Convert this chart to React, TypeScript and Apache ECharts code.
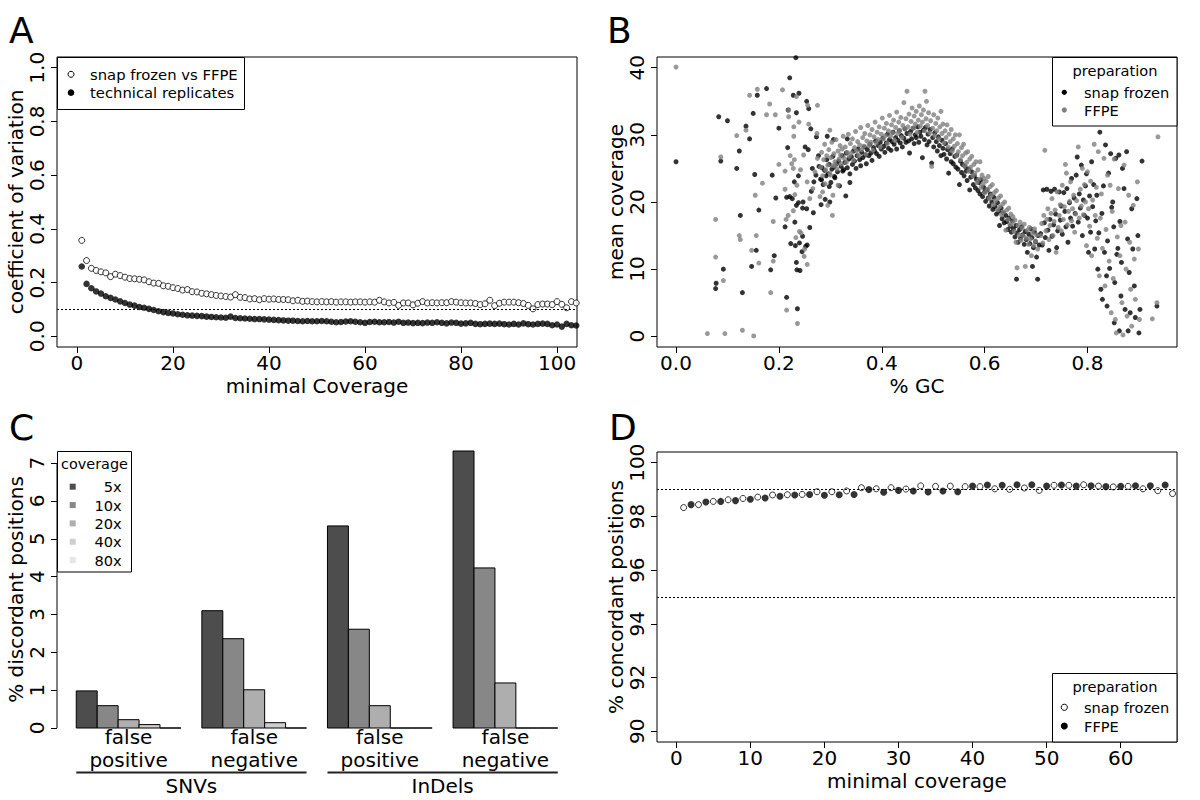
import React, { useEffect, useRef } from "react";
import * as echarts from "echarts";

const FONT = "DejaVu Sans";

// ---------- Panel A: coefficient of variation vs minimal coverage ----------
const cvSnapVsFfpe = [
  0.357, 0.282, 0.253, 0.245, 0.24, 0.236, 0.222, 0.231, 0.226, 0.22,
  0.215, 0.214, 0.212, 0.21, 0.203, 0.198, 0.197, 0.188, 0.186, 0.181,
  0.178, 0.172, 0.174, 0.166, 0.165, 0.16, 0.158, 0.155, 0.152, 0.15,
  0.148, 0.146, 0.155, 0.145, 0.144, 0.139, 0.14, 0.136, 0.14, 0.138,
  0.139, 0.137, 0.137, 0.136, 0.132, 0.134, 0.13, 0.131, 0.129, 0.128,
  0.129, 0.128, 0.129, 0.127, 0.128, 0.128, 0.127, 0.128, 0.128, 0.127,
  0.128, 0.127, 0.134, 0.128, 0.124, 0.126, 0.115, 0.124, 0.124, 0.117,
  0.123, 0.129, 0.124, 0.125, 0.124, 0.125, 0.125, 0.129, 0.127, 0.125,
  0.124, 0.124, 0.122, 0.118, 0.121, 0.134, 0.114, 0.123, 0.127, 0.127,
  0.127, 0.125, 0.122, 0.115, 0.102, 0.118, 0.12, 0.12, 0.118, 0.129,
  0.119, 0.106, 0.129, 0.124,
];
const cvTechnical = [
  0.26, 0.195, 0.179, 0.167, 0.159, 0.149, 0.143, 0.137, 0.13, 0.124,
  0.118, 0.114, 0.109, 0.106, 0.102, 0.098, 0.093, 0.09, 0.087, 0.085,
  0.082, 0.08, 0.078, 0.077, 0.076, 0.075, 0.073, 0.072, 0.071, 0.07,
  0.069, 0.073, 0.068, 0.067, 0.066, 0.065, 0.064, 0.064, 0.063, 0.062,
  0.061, 0.06, 0.059, 0.058, 0.058, 0.057, 0.056, 0.057, 0.056, 0.056,
  0.057, 0.056, 0.054, 0.052, 0.053, 0.055, 0.056, 0.054, 0.052, 0.05,
  0.053, 0.054, 0.052, 0.052, 0.053, 0.051, 0.054, 0.05, 0.051, 0.049,
  0.05, 0.049, 0.051, 0.05, 0.052, 0.05, 0.048, 0.051, 0.05, 0.047,
  0.048, 0.05, 0.046, 0.045, 0.046, 0.047, 0.046, 0.047, 0.045, 0.044,
  0.046, 0.044, 0.048, 0.045, 0.044, 0.046, 0.047, 0.046, 0.041, 0.044,
  0.036, 0.046, 0.041, 0.04,
];
const cvThreshold = 0.1;
const aXTicks = [0, 20, 40, 60, 80, 100];
const aYTicks = [0, 0.2, 0.4, 0.6, 0.8, 1.0];

// ---------- Panel B: mean coverage vs %GC ----------
const snapFrozenGC: number[][] = [
  [0.0, 26.0], [0.077, 7.1], [0.078, 7.9], [0.083, 32.7], [0.087, 26.1], [0.092, 10.0], [0.1, 32.1], [0.118, 25.0],
  [0.123, 27.6], [0.125, 18.0], [0.129, 6.5], [0.136, 31.3], [0.143, 29.4], [0.147, 10.4], [0.15, 33.2], [0.153, 24.1],
  [0.156, 12.8], [0.158, 35.9], [0.161, 18.8], [0.176, 36.9], [0.184, 9.9], [0.187, 24.0], [0.191, 12.0], [0.194, 20.6],
  [0.2, 31.0], [0.212, 16.3], [0.215, 5.8], [0.217, 28.1], [0.218, 33.7], [0.221, 20.8], [0.221, 38.5], [0.223, 13.8],
  [0.228, 35.9], [0.23, 23.0], [0.231, 17.0], [0.233, 41.5], [0.234, 33.3], [0.234, 11.0], [0.235, 9.9], [0.236, 4.1],
  [0.238, 23.9], [0.239, 36.2], [0.241, 9.8], [0.246, 14.9], [0.247, 20.0], [0.251, 28.2], [0.254, 35.0], [0.255, 13.6],
  [0.258, 33.9], [0.26, 16.2], [0.262, 30.9], [0.263, 21.6], [0.267, 18.4], [0.268, 23.0], [0.273, 29.7], [0.277, 26.9],
  [0.278, 25.3], [0.282, 19.6], [0.283, 23.3], [0.29, 20.4], [0.294, 29.8], [0.298, 22.3], [0.299, 20.0], [0.306, 29.3],
  [0.308, 23.8], [0.324, 24.6], [0.33, 20.9], [0.333, 29.4], [0.338, 22.9],
  [0.215, 20.7], [0.226, 20.5], [0.234, 19.5], [0.238, 19.9], [0.246, 19.1], [0.254, 19.0], [0.257, 27.8], [0.265, 25.0],
  [0.272, 24.0], [0.232, 13.5], [0.24, 13.9], [0.252, 13.4], [0.245, 12.6],
  [0.281, 23.4], [0.284, 25.1], [0.286, 22.6], [0.289, 24.7], [0.292, 23.9], [0.293, 26.3], [0.296, 24.2], [0.298, 25.6],
  [0.301, 22.9], [0.303, 24.9], [0.305, 26.8], [0.307, 25.2], [0.309, 23.6], [0.312, 25.7], [0.314, 24.5], [0.316, 26.1],
  [0.318, 22.4], [0.321, 25.3], [0.323, 26.9], [0.326, 24.8], [0.328, 25.9], [0.331, 27.3], [0.333, 25.1], [0.336, 26.4],
  [0.338, 24.2], [0.341, 26.7], [0.343, 25.6], [0.345, 27.6], [0.347, 26.1], [0.35, 25.0], [0.352, 26.9], [0.354, 27.9],
  [0.357, 26.3], [0.359, 25.4], [0.361, 27.4], [0.363, 26.6], [0.366, 28.2], [0.368, 27.0], [0.37, 25.7], [0.372, 27.8],
  [0.375, 26.9], [0.377, 28.6], [0.379, 27.3], [0.381, 26.2], [0.384, 28.1], [0.386, 27.6], [0.388, 29.1], [0.39, 27.2],
  [0.393, 28.4], [0.395, 26.8], [0.397, 28.9], [0.399, 27.9], [0.402, 29.5], [0.404, 28.3], [0.406, 27.4], [0.409, 28.8],
  [0.411, 30.1], [0.413, 28.0], [0.415, 29.3], [0.418, 27.7], [0.42, 29.0], [0.422, 30.4], [0.424, 28.6], [0.427, 29.6],
  [0.429, 27.9], [0.431, 29.2], [0.434, 30.6], [0.436, 28.8], [0.438, 29.9], [0.44, 28.2], [0.443, 29.5], [0.445, 30.9],
  [0.447, 28.9], [0.449, 30.2], [0.452, 29.1], [0.454, 27.3], [0.456, 30.5], [0.458, 29.4], [0.461, 31.0], [0.463, 28.7],
  [0.465, 30.0], [0.467, 29.6], [0.47, 31.2], [0.472, 28.9], [0.474, 30.4], [0.476, 29.8], [0.479, 26.6], [0.481, 30.7],
  [0.483, 29.3], [0.485, 31.1], [0.488, 28.5], [0.49, 30.1], [0.492, 29.0], [0.494, 30.8], [0.497, 25.8], [0.499, 29.6],
  [0.501, 28.2], [0.503, 30.3], [0.506, 29.0], [0.508, 27.6], [0.51, 29.7], [0.512, 28.4], [0.515, 26.9], [0.517, 29.2],
  [0.519, 28.0], [0.521, 27.1], [0.524, 28.7], [0.526, 26.4], [0.528, 27.8], [0.53, 24.3], [0.533, 27.2], [0.535, 26.0],
  [0.537, 27.9], [0.539, 25.7], [0.542, 26.8], [0.544, 25.2], [0.546, 27.0], [0.548, 24.9], [0.551, 22.6], [0.553, 26.1],
  [0.555, 24.4], [0.557, 25.6], [0.56, 23.9], [0.562, 25.3], [0.564, 24.6], [0.566, 23.2], [0.569, 24.9], [0.571, 21.8],
  [0.573, 23.7], [0.575, 24.5], [0.578, 22.6], [0.58, 23.9], [0.582, 22.1], [0.584, 23.4], [0.587, 21.7], [0.589, 22.9],
  [0.591, 21.2], [0.593, 23.3], [0.596, 20.8], [0.598, 22.2], [0.6, 21.5], [0.602, 20.1], [0.605, 21.8], [0.607, 20.6],
  [0.609, 19.4], [0.611, 21.2], [0.614, 20.0], [0.616, 18.9], [0.618, 20.7], [0.62, 19.3], [0.623, 18.2], [0.625, 19.9],
  [0.627, 18.6], [0.629, 16.5], [0.632, 19.1], [0.634, 17.5], [0.636, 18.4], [0.638, 16.9], [0.641, 18.0], [0.643, 17.1],
  [0.645, 15.9], [0.647, 17.6], [0.65, 16.4], [0.652, 15.5], [0.654, 17.2], [0.656, 16.0], [0.659, 14.8], [0.661, 16.5],
  [0.663, 15.4], [0.665, 14.0], [0.668, 15.9], [0.67, 14.6], [0.672, 16.3], [0.674, 15.1], [0.677, 13.7], [0.679, 15.6],
  [0.681, 14.4], [0.683, 12.5], [0.686, 15.2], [0.688, 13.8], [0.69, 16.0], [0.692, 14.7], [0.695, 13.2], [0.697, 15.5],
  [0.699, 14.1], [0.701, 11.8], [0.704, 15.0], [0.706, 13.6], [0.662, 8.5], [0.703, 8.5], [0.693, 10.4],
  [0.709, 15.3], [0.712, 13.6], [0.714, 21.8], [0.716, 16.9], [0.718, 14.7], [0.721, 21.9], [0.723, 15.8], [0.725, 12.8],
  [0.727, 17.4], [0.729, 21.6], [0.731, 14.9], [0.734, 16.6], [0.736, 21.9], [0.738, 18.2], [0.74, 13.2], [0.742, 15.7],
  [0.745, 21.5], [0.747, 17.3], [0.749, 19.4], [0.751, 15.2], [0.754, 21.4], [0.756, 18.6], [0.758, 16.3], [0.76, 22.0],
  [0.762, 14.0], [0.765, 19.9], [0.767, 17.6], [0.769, 23.5], [0.771, 16.4], [0.774, 20.6], [0.776, 18.3], [0.778, 24.0],
  [0.78, 26.7], [0.782, 17.0], [0.784, 21.2], [0.786, 19.1], [0.788, 25.5], [0.79, 15.0], [0.792, 20.3], [0.794, 18.0],
  [0.796, 22.4], [0.798, 24.2], [0.8, 17.6], [0.802, 12.5], [0.804, 20.9], [0.806, 15.5], [0.808, 26.0], [0.81, 19.3],
  [0.812, 22.6], [0.814, 13.0], [0.816, 17.2], [0.818, 21.0], [0.82, 10.0], [0.822, 15.4],
  [0.824, 30.4], [0.826, 7.0], [0.828, 18.3], [0.831, 22.4], [0.833, 12.5], [0.835, 28.5], [0.829, 5.5], [0.837, 9.0],
  [0.839, 14.2], [0.841, 24.3], [0.843, 10.1], [0.845, 27.2], [0.838, 4.5], [0.847, 19.2], [0.851, 16.3], [0.849, 20.0],
  [0.853, 8.0], [0.855, 26.5], [0.852, 2.0], [0.857, 12.2], [0.861, 27.0], [0.859, 13.1], [0.863, 17.1], [0.865, 6.0],
  [0.862, 0.8], [0.868, 25.0], [0.866, 11.0], [0.871, 22.0], [0.873, 4.0], [0.876, 27.5], [0.878, 14.5], [0.881, 9.5],
  [0.879, 0.8], [0.883, 3.5], [0.886, 19.0], [0.888, 13.0], [0.891, 7.5], [0.893, 2.8], [0.896, 20.5], [0.898, 15.0],
  [0.9, 0.5], [0.902, 4.0], [0.906, 26.1], [0.935, 4.5],
];
const ffpeGC: number[][] = [
  [0.0, 40.1], [0.061, 0.4], [0.077, 11.8], [0.077, 17.4], [0.087, 26.7], [0.092, 8.3], [0.095, 0.4], [0.118, 29.9],
  [0.123, 15.0], [0.125, 14.4], [0.129, 0.9], [0.136, 30.7], [0.143, 35.9], [0.147, 12.8], [0.151, 0.05], [0.154, 21.0],
  [0.156, 15.0], [0.158, 36.8], [0.161, 10.9], [0.168, 22.8], [0.176, 33.0], [0.182, 34.6], [0.184, 6.5], [0.189, 17.1],
  [0.189, 11.2], [0.193, 33.0], [0.2, 25.6], [0.207, 36.7], [0.212, 21.9], [0.212, 24.6], [0.214, 17.4], [0.215, 3.9],
  [0.219, 33.7], [0.219, 32.7], [0.225, 25.7], [0.229, 31.2], [0.229, 29.8], [0.231, 21.1], [0.233, 14.7], [0.234, 35.7],
  [0.236, 1.9], [0.239, 31.9], [0.24, 15.6], [0.243, 15.4], [0.249, 11.9], [0.25, 13.0], [0.255, 10.7], [0.256, 34.4],
  [0.258, 31.6], [0.274, 30.2], [0.275, 34.4], [0.299, 30.7], [0.304, 18.0],
  [0.222, 26.9], [0.228, 25.0], [0.235, 22.5], [0.242, 24.8], [0.248, 27.0], [0.255, 23.0], [0.26, 20.5], [0.266, 22.0],
  [0.27, 24.5], [0.275, 26.5], [0.28, 20.8], [0.285, 21.5], [0.29, 22.7], [0.295, 19.5], [0.3, 24.0], [0.305, 21.0],
  [0.31, 25.5], [0.315, 22.5], [0.32, 27.0], [0.23, 26.3], [0.228, 18.7], [0.218, 18.0],
  [0.281, 25.2], [0.283, 27.4], [0.285, 23.9], [0.287, 26.3], [0.289, 28.6], [0.291, 24.8], [0.293, 26.9], [0.295, 25.5],
  [0.297, 27.8], [0.299, 24.3], [0.301, 26.6], [0.303, 28.9], [0.305, 25.4], [0.307, 27.2], [0.309, 26.0], [0.311, 29.3],
  [0.313, 24.9], [0.315, 27.6], [0.317, 26.4], [0.319, 28.4], [0.321, 25.7], [0.323, 27.9], [0.325, 29.8], [0.327, 26.5],
  [0.329, 28.2], [0.331, 25.9], [0.333, 27.4], [0.335, 30.1], [0.337, 26.8], [0.339, 28.7], [0.341, 27.3], [0.343, 29.4],
  [0.345, 26.2], [0.347, 28.1], [0.349, 30.5], [0.351, 27.6], [0.353, 29.0], [0.355, 26.9], [0.357, 28.5], [0.359, 31.1],
  [0.361, 27.8], [0.363, 29.6], [0.365, 28.3], [0.367, 30.2], [0.369, 27.1], [0.371, 29.1], [0.373, 31.4], [0.375, 28.4],
  [0.377, 30.0], [0.379, 28.9], [0.381, 30.8], [0.383, 27.7], [0.385, 29.7], [0.387, 31.9], [0.389, 28.8], [0.391, 30.4],
  [0.393, 29.3], [0.395, 31.2], [0.397, 28.2], [0.399, 30.1], [0.401, 32.5], [0.403, 29.4], [0.405, 31.0], [0.407, 29.9],
  [0.409, 31.7], [0.411, 28.7], [0.413, 30.6], [0.415, 32.9], [0.417, 29.8], [0.419, 31.5], [0.421, 30.3], [0.423, 32.2],
  [0.425, 29.2], [0.427, 31.1], [0.429, 33.4], [0.431, 30.2], [0.433, 31.9], [0.435, 30.7], [0.437, 32.6], [0.439, 29.6],
  [0.441, 31.4], [0.443, 34.8], [0.445, 30.9], [0.447, 32.4], [0.449, 36.5], [0.451, 31.2], [0.453, 33.1], [0.455, 30.1],
  [0.457, 32.0], [0.459, 34.0], [0.461, 31.0], [0.463, 32.8], [0.465, 31.6], [0.467, 33.5], [0.469, 30.4], [0.471, 32.2],
  [0.473, 34.3], [0.475, 31.3], [0.477, 33.0], [0.479, 31.9], [0.481, 33.7], [0.483, 30.6], [0.484, 36.5], [0.486, 32.4],
  [0.487, 35.0], [0.489, 31.4], [0.491, 33.3], [0.493, 30.3], [0.495, 32.1], [0.497, 25.3], [0.499, 31.0], [0.501, 33.0],
  [0.503, 29.9], [0.505, 31.7], [0.507, 30.6], [0.509, 32.5], [0.511, 29.4], [0.513, 31.2], [0.515, 33.5], [0.517, 30.2],
  [0.519, 31.6], [0.521, 28.8], [0.523, 30.6], [0.525, 29.6], [0.527, 31.5], [0.529, 28.2], [0.531, 30.1], [0.533, 29.0],
  [0.535, 30.8], [0.537, 27.6], [0.539, 29.4], [0.541, 28.3], [0.543, 30.0], [0.545, 26.9], [0.547, 28.7], [0.549, 27.5],
  [0.551, 30.0], [0.553, 26.3], [0.555, 28.1], [0.557, 26.9], [0.559, 28.6], [0.561, 25.4], [0.563, 27.3], [0.565, 25.9],
  [0.567, 27.5], [0.569, 24.6], [0.571, 26.4], [0.573, 25.2], [0.575, 26.8], [0.577, 23.9], [0.579, 25.6], [0.581, 24.3],
  [0.583, 26.0], [0.585, 22.9], [0.587, 24.8], [0.589, 23.4], [0.591, 26.0], [0.593, 22.2], [0.595, 24.0], [0.597, 22.7],
  [0.599, 23.5], [0.601, 21.4], [0.603, 23.1], [0.605, 21.9], [0.607, 23.8], [0.609, 20.5], [0.611, 22.3], [0.613, 21.0],
  [0.615, 22.6], [0.617, 19.6], [0.619, 21.4], [0.621, 20.2], [0.623, 21.7], [0.625, 18.8], [0.627, 20.6], [0.629, 19.3],
  [0.631, 20.9], [0.633, 18.1], [0.635, 19.7], [0.637, 18.5], [0.639, 20.0], [0.641, 15.8], [0.643, 18.8], [0.645, 17.4],
  [0.647, 19.1], [0.649, 16.6], [0.651, 18.2], [0.653, 16.9], [0.655, 17.8], [0.657, 15.6], [0.659, 17.3], [0.661, 14.0],
  [0.663, 10.2], [0.665, 16.5], [0.667, 15.1], [0.669, 17.0], [0.671, 14.3], [0.673, 16.1], [0.675, 15.0], [0.677, 16.7],
  [0.679, 10.4], [0.681, 14.6], [0.683, 15.8], [0.685, 13.7], [0.687, 16.2], [0.689, 14.5], [0.691, 12.0], [0.693, 15.4],
  [0.695, 13.5], [0.697, 16.0], [0.699, 14.2], [0.701, 15.1], [0.703, 13.0],
  [0.709, 15.0], [0.711, 16.8], [0.713, 13.9], [0.715, 18.0], [0.717, 27.7], [0.719, 15.7], [0.721, 17.4], [0.723, 19.0],
  [0.725, 14.4], [0.727, 16.5], [0.729, 18.3], [0.731, 20.5], [0.733, 15.0], [0.735, 17.1], [0.737, 18.8], [0.739, 12.5],
  [0.741, 21.5], [0.743, 16.2], [0.745, 18.0], [0.747, 19.6], [0.749, 15.7], [0.751, 22.5], [0.753, 17.4], [0.755, 19.3],
  [0.757, 25.6], [0.759, 24.3], [0.761, 16.6], [0.763, 18.6], [0.765, 20.1], [0.767, 23.0], [0.769, 17.2], [0.771, 19.0],
  [0.773, 21.0], [0.775, 15.5], [0.777, 18.2], [0.779, 20.2], [0.782, 28.2], [0.784, 17.6], [0.786, 21.9], [0.788, 19.4],
  [0.79, 25.0], [0.792, 18.1], [0.794, 22.6], [0.796, 20.0], [0.798, 13.5], [0.8, 24.5], [0.802, 19.0], [0.804, 16.4],
  [0.806, 23.1], [0.808, 12.0], [0.81, 20.3], [0.813, 28.6], [0.815, 18.0], [0.817, 22.2], [0.819, 14.6],
  [0.821, 27.5], [0.823, 9.0], [0.825, 17.6], [0.827, 21.2], [0.829, 13.1], [0.832, 26.5], [0.834, 7.5], [0.836, 15.9],
  [0.839, 24.0], [0.842, 11.2], [0.844, 22.5], [0.846, 3.5], [0.848, 18.6], [0.85, 8.6], [0.852, 26.4], [0.854, 2.5],
  [0.856, 0.5], [0.858, 14.8], [0.86, 22.0], [0.863, 12.0], [0.865, 16.5], [0.867, 5.0], [0.869, 0.2], [0.871, 25.5],
  [0.873, 17.0], [0.875, 10.0], [0.877, 3.0], [0.88, 21.0], [0.882, 14.0], [0.884, 7.0], [0.886, 1.5], [0.889, 19.5],
  [0.891, 11.5], [0.893, 5.5], [0.897, 23.0], [0.899, 13.0], [0.901, 2.5], [0.926, 2.6], [0.935, 5.0], [0.937, 29.7],
];
const bXTicks = [0, 0.2, 0.4, 0.6, 0.8];
const bYTicks = [0, 10, 20, 30, 40];

// ---------- Panel C: % discordant positions ----------
const coverageLevels = ["5x", "10x", "20x", "40x", "80x"];
const coverageColors = ["#4d4d4d", "#878787", "#aeaeae", "#cecece", "#e6e6e6"];
const snvFalsePositive = [0.98, 0.59, 0.22, 0.09, 0];
const snvFalseNegative = [3.1, 2.36, 1.01, 0.14, 0];
const indelFalsePositive = [5.34, 2.61, 0.59, 0, 0];
const indelFalseNegative = [7.32, 4.23, 1.19, 0, 0];
const groupLabels = ["false\npositive", "false\nnegative", "false\npositive", "false\nnegative"];
const variantTypes = ["SNVs", "InDels"];
const cYTicks = [0, 1, 2, 3, 4, 5, 6, 7];

// ---------- Panel D: % concordant positions ----------
const snapFrozenX = [1, 3, 5, 7, 9, 11, 13, 15, 17, 19, 21, 23, 25, 27, 29, 31, 33, 35, 37, 39, 41, 43, 45, 47, 49, 51, 53, 55, 57, 59, 61, 63, 65, 67];
const snapFrozenConc = [
  98.33, 98.44, 98.56, 98.62, 98.67, 98.72, 98.8, 98.81, 98.82, 98.92, 98.92, 98.95, 99.07, 99.03, 99.07, 99.02, 99.14,
  99.12, 99.13, 99.11, 99.11, 99.03, 99.01, 99.06, 98.97, 99.16, 99.16, 99.18, 99.13, 99.1, 99.12, 99.03, 98.96, 98.85,
];
const ffpeX = [2, 4, 6, 8, 10, 12, 14, 16, 18, 20, 22, 24, 26, 28, 30, 32, 34, 36, 38, 40, 42, 44, 46, 48, 50, 52, 54, 56, 58, 60, 62, 64, 66, 68];
const ffpeConc = [
  98.44, 98.54, 98.56, 98.59, 98.64, 98.69, 98.75, 98.8, 98.82, 98.79, 98.81, 98.82, 99.0, 98.9, 98.97, 98.95, 98.91,
  98.95, 98.92, 99.13, 99.17, 99.16, 99.18, 99.18, 99.13, 99.17, 99.13, 99.14, 99.11, 99.12, 99.14, 99.14, 99.17, 99.16,
];
const concThresholds = [99, 95];
const dXTicks = [0, 10, 20, 30, 40, 50, 60];
const dYTicks = [90, 92, 94, 96, 98, 100];

// ---------- helpers ----------
const txt = { color: "#000", fontFamily: FONT, fontSize: 20 };

function xAxisDef(gridIndex: number, min: number, max: number, ticks: number[], fmt: (v: number) => string, name: string) {
  return {
    type: "value", gridIndex, min, max, name, nameLocation: "middle", nameGap: 29,
    nameTextStyle: { ...txt },
    axisLine: { show: false, onZero: false },
    axisTick: { show: true, length: 6, customValues: ticks, lineStyle: { color: "#000", width: 1 } },
    axisLabel: { show: true, margin: 6, customValues: ticks, formatter: fmt, ...txt },
    splitLine: { show: false },
  };
}
function yAxisDef(gridIndex: number, min: number, max: number, ticks: number[], fmt: (v: number) => string, name: string) {
  return {
    type: "value", gridIndex, min, max, name, nameLocation: "middle", nameGap: 30, nameRotate: 90,
    nameTextStyle: { ...txt },
    axisLine: { show: false, onZero: false },
    axisTick: { show: true, length: 6, customValues: ticks, lineStyle: { color: "#000", width: 1 } },
    axisLabel: { show: true, margin: 10, rotate: 90, customValues: ticks, formatter: fmt, ...txt },
    splitLine: { show: false },
  };
}

const dotted = (values: number[]) => ({
  silent: true, symbol: "none", label: { show: false },
  lineStyle: { type: [2, 2], color: "#000", width: 1 },
  data: values.map((v) => ({ yAxis: v })),
});

function buildOption() {
  const barGroups = [snvFalsePositive, snvFalseNegative, indelFalsePositive, indelFalseNegative];
  const barData: number[][] = [];
  barGroups.forEach((vals, g) => vals.forEach((v, i) => barData.push([1 + g * 6 + i, v, i])));
  const groupCenters = barGroups.map((_, g) => 1 + g * 6 + 2.5);
  const box = { show: true, borderColor: "#000", borderWidth: 1, backgroundColor: "transparent" };

  return {
    animation: false,
    backgroundColor: "#fff",
    grid: [
      { left: 57, top: 57, width: 520, height: 290, ...box },
      { left: 657, top: 57, width: 520, height: 290, ...box },
      { left: 57, top: 451, width: 520, height: 277, show: false },
      { left: 657, top: 452, width: 520, height: 290, ...box },
    ],
    xAxis: [
      xAxisDef(0, -4.16, 104.16, aXTicks, (v) => String(v), "minimal Coverage"),
      xAxisDef(1, -0.037, 0.974, bXTicks, (v) => v.toFixed(1), "% GC"),
      {
        type: "value", gridIndex: 2, min: 0.08, max: 24.92,
        axisLine: { show: false, onZero: false }, axisTick: { show: false }, splitLine: { show: false },
        axisLabel: {
          show: true, margin: -3, customValues: groupCenters, lineHeight: 23, ...txt,
          formatter: (v: number) => groupLabels[groupCenters.indexOf(v)] ?? "",
        },
      },
      xAxisDef(3, -2.6, 67.6, dXTicks, (v) => String(v), "minimal coverage"),
    ],
    yAxis: [
      yAxisDef(0, -0.04, 1.04, aYTicks, (v) => v.toFixed(1), "coefficient of variation"),
      yAxisDef(1, -1.6, 41.6, bYTicks, (v) => String(v), "mean coverage"),
      yAxisDef(2, 0, 7.32, cYTicks, (v) => String(v), "% discordant positions"),
      yAxisDef(3, 89.6, 100.4, dYTicks, (v) => String(v), "% concordant positions"),
    ],
    series: [
      {
        name: "snap frozen vs FFPE", type: "scatter", xAxisIndex: 0, yAxisIndex: 0, symbol: "circle", symbolSize: 6,
        itemStyle: { color: "#fff", borderColor: "#000", borderWidth: 1 },
        data: cvSnapVsFfpe.map((v, i) => [i + 1, v]),
      },
      {
        name: "technical replicates", type: "scatter", xAxisIndex: 0, yAxisIndex: 0, symbol: "circle", symbolSize: 6.5,
        itemStyle: { color: "#000" },
        data: cvTechnical.map((v, i) => [i + 1, v]),
        markLine: dotted([cvThreshold]),
      },
      {
        name: "snap frozen", type: "scatter", xAxisIndex: 1, yAxisIndex: 1, symbol: "circle", symbolSize: 5,
        itemStyle: { color: "#000" }, data: snapFrozenGC,
      },
      {
        name: "FFPE", type: "scatter", xAxisIndex: 1, yAxisIndex: 1, symbol: "circle", symbolSize: 5,
        itemStyle: { color: "#808080" }, data: ffpeGC,
      },
      {
        name: "discordant", type: "custom", xAxisIndex: 2, yAxisIndex: 2, clip: false,
        encode: { x: 0, y: 1 },
        data: barData,
        renderItem: (_p: any, api: any) => {
          const x0 = api.value(0);
          const v = api.value(1);
          const ci = api.value(2);
          const tl = api.coord([x0, v]);
          const br = api.coord([x0 + 1, 0]);
          return {
            type: "rect",
            shape: { x: tl[0], y: tl[1], width: br[0] - tl[0], height: br[1] - tl[1] },
            style: { fill: coverageColors[ci], stroke: "#000", lineWidth: 1 },
          };
        },
      },
      {
        name: "snap frozen ", type: "scatter", xAxisIndex: 3, yAxisIndex: 3, symbol: "circle", symbolSize: 6,
        itemStyle: { color: "#fff", borderColor: "#000", borderWidth: 1 },
        data: snapFrozenX.map((x, i) => [x, snapFrozenConc[i]]),
        markLine: dotted(concThresholds),
      },
      {
        name: "FFPE ", type: "scatter", xAxisIndex: 3, yAxisIndex: 3, symbol: "circle", symbolSize: 7,
        itemStyle: { color: "#000" },
        data: ffpeX.map((x, i) => [x, ffpeConc[i]]),
      },
    ],
  };
}

function legendText(text: string, x: number, y: number, align = "left", size = 14.6) {
  return { type: "text", z: 20, x, y, style: { text, fill: "#000", fontFamily: FONT, fontSize: size, align, verticalAlign: "middle" } };
}

function buildGraphics(chart: any) {
  const g: any[] = [];
  // panel letters
  [["A", 9, 30], ["B", 607, 30], ["C", 9, 427], ["D", 609, 427]].forEach(([t, x, y]) => {
    g.push({ type: "text", x, y, style: { text: t, fill: "#000", fontFamily: FONT, fontSize: 36, verticalAlign: "middle" } });
  });

  // legend A
  g.push({ type: "rect", z: 19, shape: { x: 57.5, y: 57.5, width: 187, height: 52 }, style: { fill: "#fff", stroke: "#000", lineWidth: 1 } });
  g.push({ type: "circle", z: 20, shape: { cx: 71, cy: 74.3, r: 3 }, style: { fill: "#fff", stroke: "#000", lineWidth: 1 } });
  g.push({ type: "circle", z: 20, shape: { cx: 71, cy: 92.7, r: 3.3 }, style: { fill: "#000" } });
  g.push(legendText("snap frozen vs FFPE", 90, 74.3, "left", 14.8));
  g.push(legendText("technical replicates", 90, 92.7, "left", 14.8));

  // legend B
  g.push({ type: "rect", z: 19, shape: { x: 1052.5, y: 57.5, width: 124.5, height: 68.5 }, style: { fill: "#fff", stroke: "#000", lineWidth: 1 } });
  g.push(legendText("preparation", 1115, 70.7, "center"));
  g.push({ type: "circle", z: 20, shape: { cx: 1064.3, cy: 92.3, r: 2.6 }, style: { fill: "#000" } });
  g.push({ type: "circle", z: 20, shape: { cx: 1064.3, cy: 110, r: 2.6 }, style: { fill: "#808080" } });
  g.push(legendText("snap frozen", 1084, 92.3));
  g.push(legendText("FFPE", 1084, 110));

  // legend D
  g.push({ type: "rect", z: 19, shape: { x: 1052.5, y: 673.5, width: 124.5, height: 68.5 }, style: { fill: "#fff", stroke: "#000", lineWidth: 1 } });
  g.push(legendText("preparation", 1115, 686.5, "center"));
  g.push({ type: "circle", z: 20, shape: { cx: 1064.3, cy: 707.3, r: 3.1 }, style: { fill: "#fff", stroke: "#000", lineWidth: 1 } });
  g.push({ type: "circle", z: 20, shape: { cx: 1064.3, cy: 726, r: 3.5 }, style: { fill: "#000" } });
  g.push(legendText("snap frozen", 1084, 707.3));
  g.push(legendText("FFPE", 1084, 726));

  // legend C
  g.push({ type: "rect", z: 19, shape: { x: 57.5, y: 451.5, width: 74, height: 120.5 }, style: { fill: "#fff", stroke: "#000", lineWidth: 1 } });
  g.push(legendText("coverage", 94.5, 464.3, "center", 14.4));
  coverageLevels.forEach((lab, i) => {
    const cy = 486.7 + i * 18.35;
    g.push({ type: "rect", z: 20, shape: { x: 69.7, y: cy - 3, width: 6, height: 6 }, style: { fill: coverageColors[i] } });
    g.push(legendText(lab, 121.7, cy, "right"));
  });

  // panel C axis line and group annotations
  const yTop = chart.convertToPixel({ yAxisIndex: 2 }, cYTicks[cYTicks.length - 1]);
  const yBase = chart.convertToPixel({ yAxisIndex: 2 }, 0);
  const xLeft = chart.convertToPixel({ xAxisIndex: 2 }, 0.08);
  g.push({ type: "line", z: 5, shape: { x1: xLeft, y1: yTop, x2: xLeft, y2: yBase }, style: { stroke: "#000", lineWidth: 1 } });
  variantTypes.forEach((name, k) => {
    const xa = chart.convertToPixel({ xAxisIndex: 2 }, 1 + k * 12);
    const xb = chart.convertToPixel({ xAxisIndex: 2 }, 12 + k * 12);
    g.push({ type: "line", shape: { x1: xa, y1: yBase + 44.5, x2: xb, y2: yBase + 44.5 }, style: { stroke: "#222", lineWidth: 2 } });
    g.push({
      type: "text", x: (xa + xb) / 2, y: yBase + 58,
      style: { text: name, fill: "#000", fontFamily: FONT, fontSize: 20, align: "center", verticalAlign: "middle" },
    });
  });
  return g;
}

export default function App() {
  const ref = useRef<HTMLDivElement>(null);
  useEffect(() => {
    const chart = echarts.init(ref.current!, null, { renderer: "svg", width: 1200, height: 800 });
    chart.setOption(buildOption() as any);
    chart.setOption({ graphic: buildGraphics(chart) } as any);
    return () => chart.dispose();
  }, []);
  return <div ref={ref} style={{ position: "absolute", left: 0, top: 0, width: 1200, height: 800 }} />;
}
